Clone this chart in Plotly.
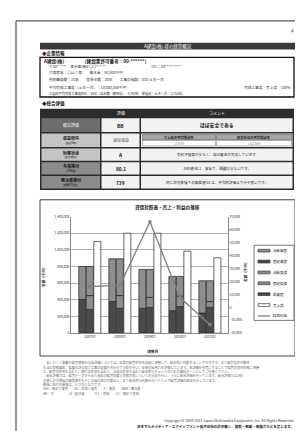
import plotly.graph_objects as go

W, H = 303, 431
FONT = "Noto Sans CJK JP"


def X(x):
    return x / W


def Y(y):
    return 1 - y / H


# ---------------- data ----------------
periods = ["200703", "200803", "200903", "201003", "201103"]
fixed_assets = [405000, 381000, 300000, 270000, 242000]      # bar 1, bottom
current_assets = [395000, 512000, 466000, 412000, 388000]    # bar 1, top
net_assets = [286000, 300000, 310000, 320000, 310000]        # bar 2, bottom
fixed_liab = [166000, 152000, 120000, 124000, 70000]         # bar 2, middle
current_liab = [348000, 441000, 336000, 238000, 250000]      # bar 2, top
sales = [1100000, 1200000, 1200000, 985000, 905000]          # bar 3
ordinary_profit = [16000, 17000, 66000, 7500, -13500]        # line (right axis)

legend_names = ["流動資産", "固定資産", "流動負債", "固定負債", "純資産", "売上高", "経常利益"]

DARK = "#4a4a4a"
MID = "#8e8e8e"
EDGE = "#222222"

fig = go.Figure()

bw = 0.235


def add_bar(vals, base, off, color):
    fig.add_trace(go.Bar(
        x=periods, y=vals, base=base, offset=off, width=bw,
        marker=dict(color=color, line=dict(color=EDGE, width=0.7)),
        showlegend=False, hoverinfo="skip"))


base_ca = fixed_assets
base_fl = net_assets
base_cl = [a + b for a, b in zip(net_assets, fixed_liab)]
add_bar(fixed_assets, [0] * 5, -0.37, DARK)
add_bar(current_assets, base_ca, -0.37, MID)
add_bar(net_assets, [0] * 5, -0.12, DARK)
add_bar(fixed_liab, base_fl, -0.12, MID)
add_bar(current_liab, base_cl, -0.12, MID)
add_bar(sales, [0] * 5, 0.13, "#ffffff")

fig.add_trace(go.Scatter(
    x=periods, y=ordinary_profit, yaxis="y2", mode="lines+markers",
    line=dict(color="#808080", width=1.3),
    marker=dict(size=3, color="#808080", symbol="square"),
    showlegend=False, hoverinfo="skip"))

shapes = []
ann = []


def rect(x0, y0, x1, y1, fill=None, line=None, lw=1, layer="below"):
    shapes.append(dict(type="rect", xref="paper", yref="paper",
                       x0=X(x0), x1=X(x1), y0=Y(y1), y1=Y(y0),
                       fillcolor=fill if fill else "rgba(0,0,0,0)",
                       line=dict(color=line if line else "rgba(0,0,0,0)", width=lw if line else 0),
                       layer=layer))


def hline(x0, x1, y, color, lw=1):
    shapes.append(dict(type="line", xref="paper", yref="paper", x0=X(x0), x1=X(x1),
                       y0=Y(y), y1=Y(y), line=dict(color=color, width=lw), layer="below"))


def vline(x, y0, y1, color, lw=1):
    shapes.append(dict(type="line", xref="paper", yref="paper", x0=X(x), x1=X(x),
                       y0=Y(y0), y1=Y(y1), line=dict(color=color, width=lw), layer="below"))


def text(x, y, s, size=4, color="#222", anchor="left", bold=False, angle=0):
    if bold:
        s = "<b>" + s + "</b>"
    ann.append(dict(x=X(x), y=Y(y), xref="paper", yref="paper", text=s, showarrow=False,
                    xanchor=anchor, yanchor="middle", textangle=angle, borderpad=0,
                    font=dict(size=size, color=color, family=FONT)))


# page frame
hline(8, 303, 10, "#333333", 1)
vline(8, 10, 431, "#333333", 1)
vline(298, 10, 431, "#d8d8d8", 1)
text(284, 20, "4", 4.5, "#333", "center")

# title bar
rect(32, 32, 287, 39, fill="#3a3a3a")
text(160, 35.5, "A建設(株) 様の経営概況", 4.5, "#ffffff", "center")

# company info
text(33, 43, "◆企業情報", 4.5, "#111", bold=True)
rect(32, 47, 286, 87, line="#111", lw=1.3)
text(33.5, 51, "A建設(株)", 4.6, "#111", bold=True)
text(73, 51, "（建設業許可番号：00-******）", 4.6, "#111", bold=True)
text(40, 56.5, "〒10*-****　東京都港区〇〇*-*-**", 3.7, "#333")
text(142, 56.5, "TEL：03-****-****", 3.7, "#333")
text(40, 62.5, "代表者名：〇山△郎　　資本金：50,000千円", 3.7, "#333")
text(40, 69, "技術職員数：20名　　営業年数：33年　　工事の種類：010 土木一式", 3.7, "#333")
text(40, 77, "平均完成工事高（土木一式）：10,000,000千円", 3.7, "#333")
text(284, 77, "完成工事高／売上高　100%", 3.7, "#333", "right")
text(40, 83, "工種別平均完成工事高順位：65位（全社数（静岡県）　4,790社　業種別：土木一式　2,782社）", 3.2, "#333")

# overall evaluation table
text(33, 94, "◆総合評価", 4.5, "#111", bold=True)
rect(32, 99, 286, 181, fill="#2c2c2c")
text(112.5, 103, "評価", 4, "#ffffff", "center")
text(209, 103, "コメント", 4, "#ffffff", "center")

rows = [(108.5, 122.5), (124, 137.5), (139, 151.5), (153, 165.5), (167, 179.5)]
c1, c2, c3 = (33.5, 92), (93.5, 131.5), (133, 284.5)
col1_fill = ["#6e6e6e", "#c4c4c4", "#c4c4c4", "#8c8c8c", "#8c8c8c"]
col1_main = ["総合評価", "収益傾向", "財務状態", "与信格付", "発注者格付"]
col1_sub = ["", "(直近5年)", "(直近年度)", "(JME値)", "(経審P評点)"]
col1_color = ["#ffffff", "#222", "#222", "#111", "#111"]
col2_txt = ["BB", "減収減益", "A", "80.1", "739"]
for i, (ya, yb) in enumerate(rows):
    rect(c1[0], ya, c1[1], yb, fill=col1_fill[i])
    rect(c2[0], ya, c2[1], yb, fill="#f2f2f2")
    rect(c3[0], ya, c3[1], yb, fill="#f2f2f2")
    ym = (ya + yb) / 2
    if col1_sub[i]:
        text((c1[0] + c1[1]) / 2, ym - 2, col1_main[i], 4, col1_color[i], "center", bold=True)
        text((c1[0] + c1[1]) / 2, ym + 2.6, col1_sub[i], 2.8, col1_color[i], "center")
    else:
        text((c1[0] + c1[1]) / 2, ym, col1_main[i], 4, col1_color[i], "center")
    if i == 1:
        text((c2[0] + c2[1]) / 2, ym, col2_txt[i], 4, "#555", "center")
    else:
        text((c2[0] + c2[1]) / 2, ym, col2_txt[i], 4.8, "#111", "center", bold=True)

xm3 = (c3[0] + c3[1]) / 2
text(xm3, sum(rows[0]) / 2, "ほぼ安全である", 4.8, "#111", "center", bold=True)
# sub-table in row 2
ya, yb = rows[1]
rect(134.5, ya + 1, 207.5, ya + 6.5, fill="#a8a8a8", line="#444", lw=0.5)
rect(208.5, ya + 1, 283.5, ya + 6.5, fill="#a8a8a8", line="#444", lw=0.5)
rect(134.5, ya + 7, 207.5, yb - 1, fill="#ffffff", line="#777", lw=0.5)
rect(208.5, ya + 7, 283.5, yb - 1, fill="#ffffff", line="#777", lw=0.5)
text(171, ya + 3.8, "売上高の平均増減率", 3.3, "#222", "center", bold=True)
text(246, ya + 3.8, "経常利益の平均増減率", 3.3, "#222", "center", bold=True)
text(171, ya + 10, "-3.93%", 3.2, "#888", "center")
text(246, ya + 10, "-152.56%", 3.2, "#888", "center")
text(xm3, sum(rows[2]) / 2, "有利子負債が少なく、自己資本が充実しています", 3.6, "#222", "center")
text(xm3, sum(rows[3]) / 2, "JME値 80.1　安全で、問題は少ないです。", 3.6, "#222", "center")
text(xm3, sum(rows[4]) / 2, "同じ許可業種での偏差値 54 は、平均的評価よりやや良いです。", 3.6, "#222", "center")

# chart frame
rect(32, 191, 287, 349, fill="#ffffff", line="#444", lw=1)
text(159, 199, "貸借対照表・売上・利益の推移", 4.6, "#222", "center", bold=True)
text(36, 268, "金額（千円）", 3.6, "#333", "center", bold=True, angle=-90)
text(238, 263, "金額（千円）", 3.6, "#333", "center", bold=True, angle=-90)
text(145, 344, "決算月", 3.8, "#222", "center", bold=True)

# manual legend
rect(246, 237, 286, 313, fill="#ffffff", line="#555", lw=0.8)
leg_y = [242.5, 253.5, 264.5, 275.5, 286.5, 297.5, 308.5]
leg_fill = [MID, DARK, MID, MID, DARK, "#ffffff", None]
for name, ly, fc in zip(legend_names, leg_y, leg_fill):
    if fc is None:
        hline(250, 262, ly, "#808080", 1.3)
    else:
        rect(250, ly - 1.4, 262, ly + 1.4, fill=fc, line=EDGE, lw=0.6)
    text(264, ly, name, 3.5, "#222", "left")

# explanatory paragraph
para = [
    "　本レポート掲載の経営情報の与信評価については、日常の経営状況を全般に把握して、総合的に判断することが大切です。また経営指標の推移",
    "を含む財務諸表、経審の評点及び工事の実績を合わせて分析を行い、企業の信用力を評価しています。本評価を参考にすることで経営状況を的確に把握",
    "す。経営の状況を含めた、取引の状況を含めた、与信の状況を含めた総合的なチェックのための資料の一つとしてご利用ください。",
    "　総合評価では、経営データからみた過去の経営実績と財務状態についての分析を行い、さらに総合評価を行っています。総合評価ではJME",
    "の値と許可業種の偏差値をもとに与信の格付を算出し、また総合的な判断を行ったうえで経営評価の結果を示しています。",
    "最後に格付の意味は、以下のとおりです。",
    "AAA：極めて優秀　　AA：非常に優秀　　A：優良　　BBB：概ね良",
    "BB：可　　　　　B：要注意　　　CCC：危険　　CC：極めて危険",
]
for k, line in enumerate(para):
    text(34, 356 + k * 4.4, line, 3.2, "#666", "left")

text(287, 414, "Copyright © 2004-2011 Japan Multimedia Equipment, Inc. All Rights Reserved.", 3.6, "#333", "right")
text(287, 420, "日本マルチメディア・エクイップメント株式会社の許可無く、複製・転載・再販売などを禁じます。", 3.5, "#222", "right", bold=True)

tickfont = dict(size=3.4, color="#333", family=FONT)
fig.update_layout(
    width=W, height=H, margin=dict(l=0, r=0, t=0, b=0),
    paper_bgcolor="#ffffff", plot_bgcolor="rgba(0,0,0,0)",
    barmode="overlay", showlegend=False,
    shapes=shapes, annotations=ann,
    xaxis=dict(type="category", domain=[X(63), X(220)], range=[-0.63, 4.6],
               showgrid=False, showline=True, linecolor="#888", linewidth=0.8,
               ticks="", tickfont=tickfont, fixedrange=True),
    yaxis=dict(domain=[Y(326), Y(208)], range=[0, 1400000], dtick=200000, tickformat=",",
               showgrid=True, gridcolor="#b0b0b0", gridwidth=0.7, zeroline=False,
               showline=True, linecolor="#888", linewidth=0.8, ticks="", tickfont=tickfont),
    yaxis2=dict(overlaying="y", side="right", anchor="x", range=[-20000, 70000], dtick=10000,
                tickformat=",", showgrid=False, zeroline=False, showline=True,
                linecolor="#888", linewidth=0.8, ticks="", tickfont=tickfont),
)

fig.write_html("out.html")
